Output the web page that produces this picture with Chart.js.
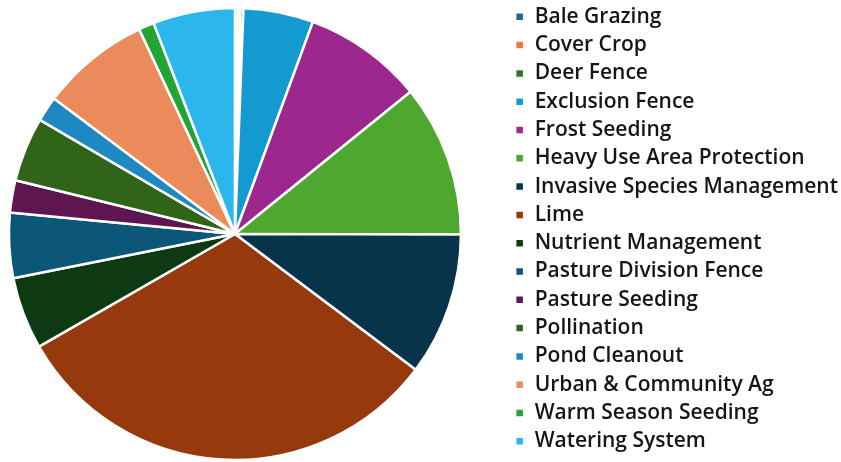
<!DOCTYPE html>
<html>
<head>
<meta charset="utf-8">
<script src="https://cdn.jsdelivr.net/npm/chart.js@4"></script>
<style>
  html, body { margin: 0; padding: 0; background: #fff; overflow: hidden; }
  #wrap { width: 879px; height: 468px; position: relative; left: -38px; }
</style>
</head>
<body>
<div id="wrap"><canvas id="grafico"></canvas></div>
<script>
// Categorías y valores (porcentaje aprox.)
const categorias = [
  'Bale Grazing', 'Cover Crop', 'Deer Fence', 'Exclusion Fence', 'Frost Seeding',
  'Heavy Use Area Protection', 'Invasive Species Management', 'Lime',
  'Nutrient Management', 'Pasture Division Fence', 'Pasture Seeding', 'Pollination',
  'Pond Cleanout', 'Urban & Community Ag', 'Warm Season Seeding', 'Watering System'
];
const valores = [0.2, 0.2, 0.2, 5.0, 8.55, 10.85, 10.2, 31.4, 5.15, 4.65, 2.3, 4.6, 1.8, 7.8, 1.1, 5.85];
const colores = [
  '#1f6594', '#ec7a34', '#2a7a2c', '#139ad0', '#9c288e', '#4ea72e', '#08344b', '#963a0e',
  '#0d3a12', '#0b5778', '#5d1650', '#2f6419', '#1e88c1', '#eb8b5c', '#22a535', '#2bb7ee'
];

const grafico = document.getElementById('grafico');

new Chart(grafico, {
  type: 'pie',
  data: {
    labels: categorias,
    datasets: [{
      data: valores,
      backgroundColor: colores,
      borderColor: '#ffffff',
      borderWidth: 2.5,
      radius: 226
    }]
  },
  options: {
    responsive: true,
    maintainAspectRatio: false,
    animation: false,
    layout: { padding: { left: 0, top: -1, bottom: -1, right: -7 } },
    plugins: {
      tooltip: { enabled: false },
      legend: {
        position: 'right',
        align: 'start',
        labels: {
          boxWidth: 9,
          boxHeight: 9,
          padding: 7.3,
          color: '#161616',
          font: { family: 'Open Sans', size: 21, weight: '600' }
        }
      }
    }
  }
});
</script>
</body>
</html>
